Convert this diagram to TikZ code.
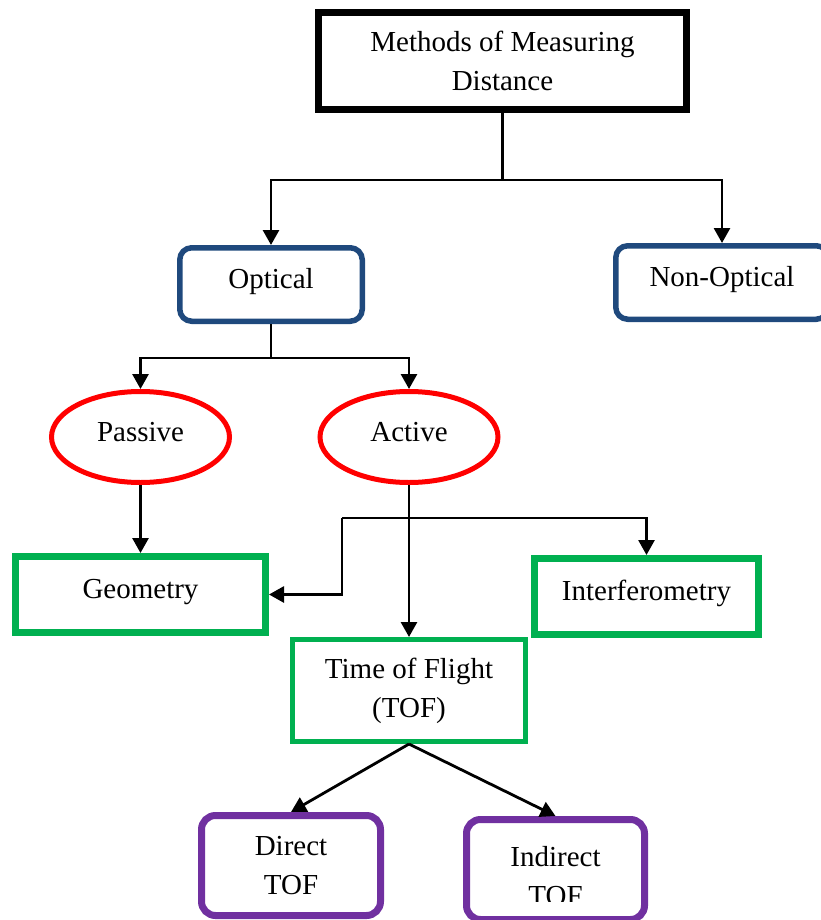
\documentclass[tikz,border=0pt]{standalone}
\usepackage{fontspec}
\setmainfont{Liberation Serif}
\usetikzlibrary{arrows.meta,shapes.geometric}

\definecolor{boxblue}{RGB}{31,73,125}
\definecolor{boxred}{RGB}{255,0,0}
\definecolor{boxgreen}{RGB}{0,176,80}
\definecolor{boxpurple}{RGB}{112,48,160}

\tikzset{
  base/.style={inner sep=0pt, font=\fontsize{29}{39}\selectfont, align=center},
  oneline/.style={text height=20pt, text depth=12pt},
  rootbox/.style={base, draw=black, line width=7pt, rectangle},
  bluebox/.style={base, oneline, draw=boxblue, line width=5.5pt, rectangle, rounded corners=12pt},
  redoval/.style={base, oneline, draw=boxred, line width=5pt, ellipse},
  greenbox/.style={base, draw=boxgreen, rectangle},
  purplebox/.style={base, draw=boxpurple, line width=7pt, rectangle, rounded corners=14pt},
  link/.style={draw=black, line width=2.8pt},
  arrowlink/.style={link, -{Triangle[length=15pt,width=16pt]}}
}

\begin{document}
\begin{tikzpicture}[x=1pt, y=-1pt]
  \useasboundingbox (0,0) rectangle (821,920);
  \clip (0,0) rectangle (821,920);

  % boxes
  \node[rootbox, minimum width=368pt, minimum height=97pt] (root) at (502.5,61)
    {Methods of Measuring\\Distance};

  \node[bluebox, minimum width=182.5pt, minimum height=73.5pt] (opt) at (271,284.5) {Optical};
  \node[bluebox, minimum width=212.5pt, minimum height=73.5pt] (nonopt) at (722,282.5) {Non-Optical};

  \node[redoval, minimum width=178pt, minimum height=91pt] (pas) at (140.5,437) {Passive};
  \node[redoval, minimum width=178pt, minimum height=91pt] (act) at (409,437) {Active};

  \node[greenbox, oneline, line width=7pt, minimum width=250pt, minimum height=76pt] (geo) at (140.5,594.5) {Geometry};
  \node[greenbox, oneline, line width=7pt, minimum width=224pt, minimum height=76pt] (intf) at (646.5,596.5) {Interferometry};
  \node[greenbox, line width=5pt, minimum width=233pt, minimum height=102pt] (tof) at (409,690.5)
    {Time of Flight\\(TOF)};

  \node[purplebox, minimum width=179pt, minimum height=100pt] (dir) at (291,865.5) {Direct\\TOF};
  \node[purplebox, minimum width=178pt, minimum height=100pt] (ind) at (555.5,869.5) {};
  \begin{scope}
    \clip (460,800) rectangle (650,901);
    \node[base] (indtxt) at (555.5,876) {Indirect\\TOF};
  \end{scope}

  % junctions
  \coordinate (j1) at (502.5,180);
  \coordinate (j2) at (271,358);
  \coordinate (j3) at (342,518);

  % connectors
  \draw[link] (root.south) -- (j1);
  \draw[arrowlink] (j1) -| (opt.north);
  \draw[arrowlink] (j1) -| (nonopt.north);

  \draw[link] (opt.south) -- (j2);
  \draw[arrowlink] (j2) -| (pas.north);
  \draw[arrowlink] (j2) -| (act.north);

  \draw[arrowlink] (pas.south) -- (geo.north);
  \draw[arrowlink] (act.south) -- (act.south |- tof.north);
  \draw[arrowlink] (j3) |- (geo.east);
  \draw[arrowlink] (j3) -| (intf.north);

  \draw[arrowlink] (tof.south) -- (dir.north);
  \draw[arrowlink] (tof.south) -- (ind.north);
\end{tikzpicture}
\end{document}
